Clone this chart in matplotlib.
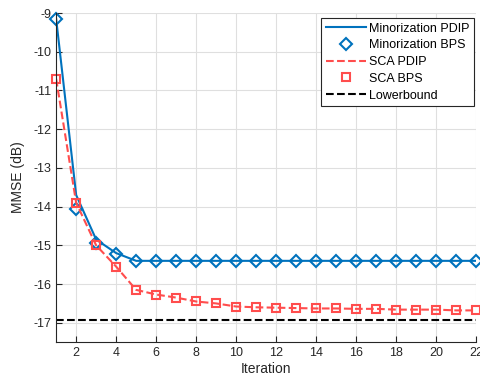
import matplotlib.pyplot as plt

plt.rcParams['font.family'] = ['Liberation Sans', 'DejaVu Sans']
plt.rcParams['axes.unicode_minus'] = False

# datos
iteraciones = list(range(1, 23))
minor_pdip = [-9.15, -13.7, -14.85, -15.2, -15.4, -15.4, -15.4, -15.4, -15.4, -15.4, -15.4,
              -15.4, -15.4, -15.4, -15.4, -15.4, -15.4, -15.4, -15.4, -15.4, -15.4, -15.4]
minor_bps = [-9.15, -14.05, -14.95, -15.22, -15.4, -15.4, -15.4, -15.4, -15.4, -15.4, -15.4,
             -15.4, -15.4, -15.4, -15.4, -15.4, -15.4, -15.4, -15.4, -15.4, -15.4, -15.4]
sca_pdip = [-10.7, -13.9, -15.0, -15.55, -16.15, -16.27, -16.35, -16.45, -16.5, -16.58, -16.6,
            -16.61, -16.62, -16.63, -16.63, -16.64, -16.64, -16.66, -16.66, -16.66, -16.68, -16.68]
sca_bps = sca_pdip
lowerbound = [-16.93] * len(iteraciones)

azul = '#0072BD'
rojo = '#FF4D4D'
gris = '#262626'

fig = plt.figure(figsize=(4.8, 3.84), dpi=100)
ax = fig.add_axes([0.117, 0.109, 0.875, 0.857])

ax.plot(iteraciones, minor_pdip, '-', color=azul, lw=1.5, label='Minorization PDIP')
ax.plot(iteraciones, minor_bps, 'D', color=azul, mfc='none', mew=1.5, ms=6,
        label='Minorization BPS', clip_on=False)
ax.plot(iteraciones, sca_pdip, '--', color=rojo, lw=1.5, label='SCA PDIP')
ax.plot(iteraciones, sca_bps, 's', color=rojo, mfc='none', mew=1.5, ms=5.5,
        label='SCA BPS', clip_on=False)
ax.plot(iteraciones, lowerbound, '--', color='black', lw=1.5, label='Lowerbound')

ax.set_xlim(1, 22)
ax.set_ylim(-17.5, -9)
ax.set_xticks(range(2, 23, 2))
ax.set_yticks(range(-17, -8))
ax.set_xlabel('Iteration', fontsize=10, color=gris, labelpad=2)
ax.set_ylabel('MMSE (dB)', fontsize=10, color=gris, labelpad=6)
ax.tick_params(direction='in', labelsize=9, colors=gris, length=4, width=0.8)
ax.grid(True, color='#dfdfdf', lw=0.8)
ax.set_axisbelow(True)
ax.spines['top'].set_visible(False)
ax.spines['right'].set_visible(False)
ax.spines['left'].set_color(gris)
ax.spines['bottom'].set_color(gris)

leg = ax.legend(loc='upper right', bbox_to_anchor=(1.0, 0.99), fontsize=9,
                fancybox=False, framealpha=1, edgecolor=gris, borderpad=0.35,
                labelspacing=0.38, handlelength=3.2, handletextpad=0.3, borderaxespad=0.15)
leg.get_frame().set_linewidth(0.8)

plt.savefig('out.png')
